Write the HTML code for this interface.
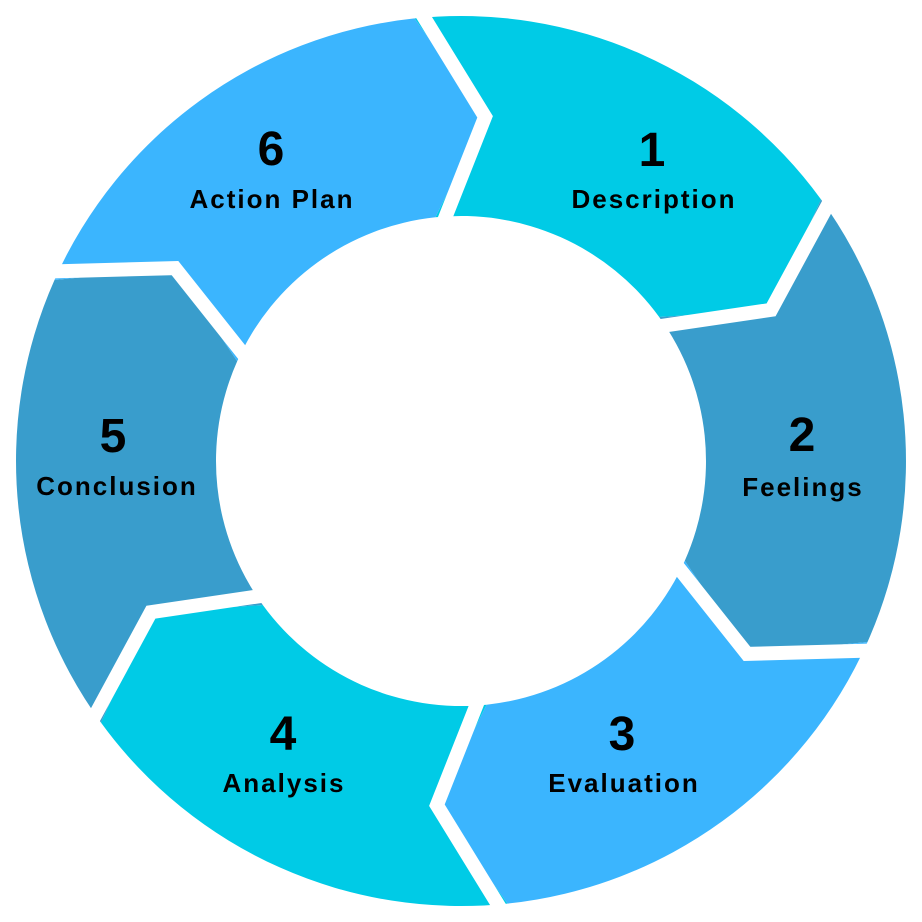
<!DOCTYPE html>
<html><head><meta charset="utf-8"><style>
html,body{margin:0;padding:0;background:#fff;width:922px;height:922px;overflow:hidden}
svg{display:block}
text{font-family:"Liberation Sans",sans-serif;font-weight:bold;fill:#000;text-anchor:middle}
.n{font-size:48px}.l{font-size:26px;letter-spacing:2px}
</style></head><body>
<svg id="s" width="922" height="922" viewBox="0 0 922 922">
<g id="segs"></g>
<text class="n" x="652" y="166">1</text><text class="l" x="654" y="208">Description</text>
<text class="n" x="802" y="451">2</text><text class="l" x="803" y="496">Feelings</text>
<text class="n" x="622" y="750">3</text><text class="l" x="624" y="792">Evaluation</text>
<text class="n" x="283" y="750">4</text><text class="l" x="284" y="792">Analysis</text>
<text class="n" x="113" y="452">5</text><text class="l" x="117" y="495">Conclusion</text>
<text class="n" x="271" y="165">6</text><text class="l" x="272" y="208">Action Plan</text>
</svg>
<script>
var cx=461,cy=461,R=445,r=245,Rm=345,tip=10;
var cols=["#00cbe6","#399dcc","#3bb5fe","#00cbe6","#399dcc","#3bb5fe"];
function p(a,rad){var t=a*Math.PI/180;return [(cx+rad*Math.sin(t)).toFixed(1),(cy-rad*Math.cos(t)).toFixed(1)];}
var g=document.getElementById('segs'),h='';
var base=-6;
for(var i=0;i<6;i++){
 var a0=base+60*i,a1=a0+60;
 var o0=p(a0,R),o1=p(a1,R),t1=p(a1+tip,Rm),i1=p(a1,r),i0=p(a0,r),t0=p(a0+tip,Rm);
 h+='<path fill="'+cols[i]+'" d="M'+o0+' A'+R+' '+R+' 0 0 1 '+o1+' L'+t1+' L'+i1+' A'+r+' '+r+' 0 0 0 '+i0+' L'+t0+' Z"/>';
}
for(var i=0;i<6;i++){
 var a=base+60*i;
 h+='<polyline fill="none" stroke="#fff" stroke-width="14" stroke-linejoin="miter" points="'+p(a,R+20)+' '+p(a+tip,Rm)+' '+p(a,r-20)+'"/>';
}
g.innerHTML=h;
</script>
</body></html>
